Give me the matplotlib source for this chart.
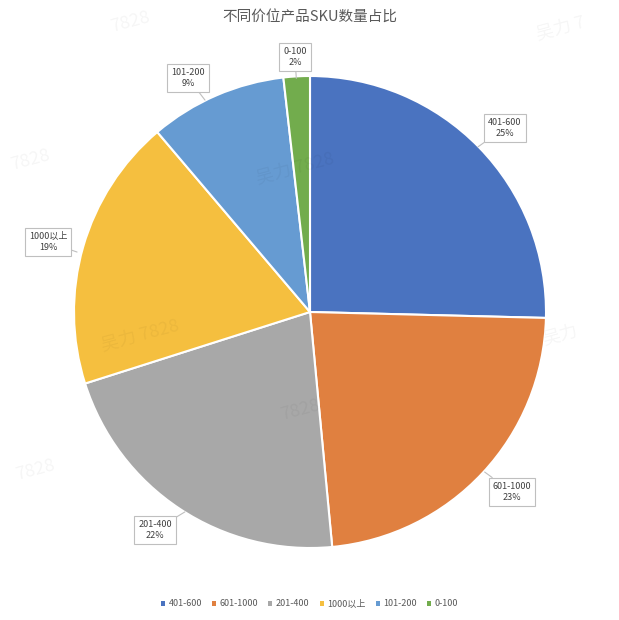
import matplotlib
matplotlib.use("Agg")
import matplotlib.pyplot as plt
from matplotlib.patches import Rectangle

plt.rcParams['font.family'] = ['Noto Sans CJK SC', 'DejaVu Sans']

title = "不同价位产品SKU数量占比"
categories = ["401-600", "601-1000", "201-400", "1000以上", "101-200", "0-100"]
values = [25.4, 23.1, 21.6, 18.7, 9.4, 1.8]
colors = ["#4A73C0", "#E08040", "#A8A8A8", "#F5BF3F", "#669BD2", "#72AC4D"]

# label box positions (data units, pie radius = 1) and leader-line targets
label_pos = [(0.826, 0.78), (0.856, -0.763), (-0.657, -0.924), (-1.11, 0.297), (-0.517, 0.992), (-0.064, 1.08)]
arrow_to = [(0.712, 0.70), (0.74, -0.678), (-0.53, -0.847), (-0.987, 0.254), (-0.445, 0.898), (-0.058, 0.99)]

W, H = 619, 620
fig = plt.figure(figsize=(W / 100, H / 100), dpi=100)
fig.patch.set_facecolor("white")

cx, cy, r = 310, 312, 236
ax = fig.add_axes([(cx - r) / W, 1 - (cy + r) / H, 2 * r / W, 2 * r / H])
wedges, _ = ax.pie(values, colors=colors, startangle=90, counterclock=False,
                   radius=1, wedgeprops=dict(edgecolor="white", linewidth=1.5))
ax.set_xlim(-1, 1)
ax.set_ylim(-1, 1)
ax.set_aspect("equal")
ax.axis("off")

for cat, v, (tx, ty), (axx, axy) in zip(categories, values, label_pos, arrow_to):
    ax.annotate(f"{cat}\n{round(v)}%", xy=(axx, axy), xytext=(tx, ty),
                ha="center", va="center", fontsize=6.5, color="#404040",
                linespacing=1.3, annotation_clip=False,
                bbox=dict(boxstyle="square,pad=0.45", fc="white", ec="#BFBFBF", lw=0.8),
                arrowprops=dict(arrowstyle="-", color="#BFBFBF", lw=0.8, shrinkA=0, shrinkB=0))

fig.text(0.5, 1 - 18 / H, title, ha="center", va="center", fontsize=10.5, color="#595959")

# faint watermarks
wm = [(130, 22, "7828"), (560, 28, "吴力 7"), (30, 160, "7828"), (295, 168, "吴力 7828"),
      (140, 335, "吴力 7828"), (560, 335, "吴力"), (300, 410, "7828"), (35, 470, "7828")]
for x, y, s in wm:
    fig.text(x / W, 1 - y / H, s, ha="center", va="center", fontsize=13, color="#000000",
             alpha=0.04, rotation=15)

handles = [Rectangle((0, 0), 1, 1, fc=c, ec="none") for c in colors]
leg = fig.legend(handles, categories, loc="center", bbox_to_anchor=(0.5, 1 - 604 / H),
                 ncol=6, frameon=False, fontsize=6.5, handlelength=0.45, handleheight=0.45,
                 handletextpad=0.4, columnspacing=1.1)
for t in leg.get_texts():
    t.set_color("#595959")

fig.savefig("out.png", dpi=100, facecolor="white")
